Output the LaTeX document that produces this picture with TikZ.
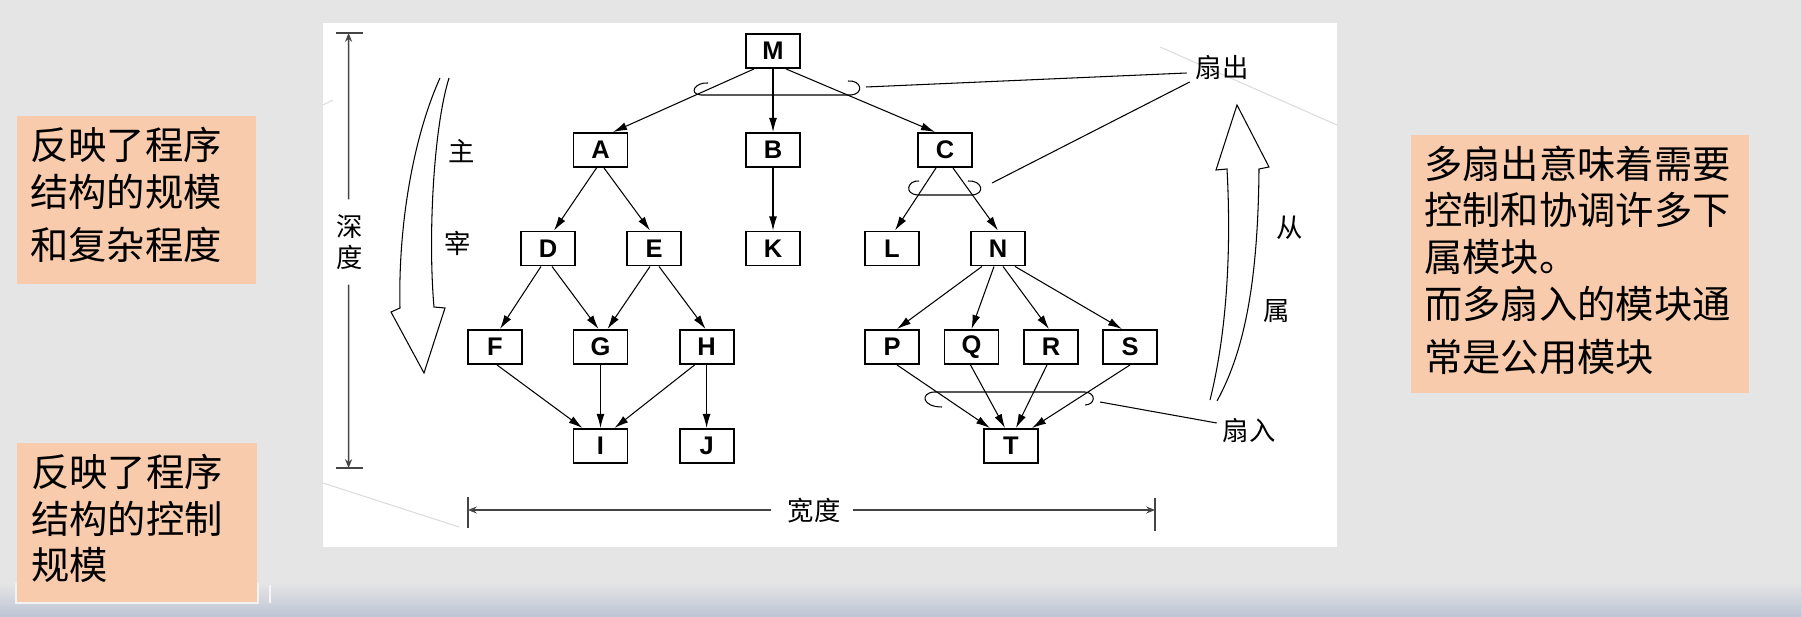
\documentclass[tikz,border=0pt]{standalone}
\usepackage{fontspec}
\setmainfont{Liberation Sans}
\newfontfamily\cjk{Noto Sans CJK SC}
\usetikzlibrary{arrows.meta,calc}
\definecolor{bg}{HTML}{E5E5E5}
\definecolor{peach}{HTML}{F8CBAD}
\definecolor{fade}{HTML}{BCC4D4}
\definecolor{faint}{HTML}{DCDCDC}
\definecolor{dim}{HTML}{444444}
\begin{document}
\begin{tikzpicture}[x=0.02cm,y=-0.02cm,
  mbox/.style={draw,line width=1.1pt,minimum width=1.08cm,minimum height=0.68cm,inner sep=0pt,
    font=\fontsize{14.5}{14.5}\selectfont\bfseries},
  edge/.style={-{Latex[length=8pt,width=4.5pt]},line width=0.6pt},
  dimline/.style={dim,line width=0.9pt},
  dimarrow/.style={dim,line width=0.9pt,-{Stealth[length=5pt,width=4pt]}},
  curl/.style={line width=0.6pt},
  hollow/.style={line width=0.6pt},
  cjklab/.style={font=\cjk\fontsize{15}{17.4}\selectfont,inner sep=0pt,align=center},
  note/.style={font=\cjk\fontsize{21.8}{21.8}\selectfont,anchor=base west,inner sep=0pt},
  notebox/.style={fill=peach}
]
\useasboundingbox (0,0) rectangle (1801,617);
% background
\fill[bg] (0,0) rectangle (1801,617);
\shade[top color=bg,bottom color=fade] (0,583) rectangle (1801,617);
\fill[white] (323,23) rectangle (1337,547);
\draw[faint,line width=0.6pt] (323,483) -- (459,527);
\draw[faint,line width=0.6pt] (1160,47) -- (1337,125);
\draw[faint,line width=0.6pt] (323,105) -- (333,100);
\draw[white!93!gray,line width=0.6pt] (270,585) -- (270,603);

% note boxes
\fill[notebox] (17,116) rectangle (256,284);
\node[note] (la1) at (30,160) {反映了程序};
\node[note] (la2) at (30,207) {结构的规模};
\node[note] (la3) at (30,260) {和复杂程度};

\draw[white!90!gray,line width=1.2pt] (16,583) -- (16,603) -- (258,603) -- (258,583);
\fill[notebox] (17,443) rectangle (257,602);
\node[note] (lb1) at (31,487) {反映了程序};
\node[note] (lb2) at (31,534) {结构的控制};
\node[note] (lb3) at (31,580) {规模};

\fill[notebox] (1411,135) rectangle (1749,393);
\node[note] (r1) at (1424,179) {多扇出意味着需要};
\node[note] (r2) at (1424,225) {控制和协调许多下};
\node[note] (r3) at (1424,272) {属模块。};
\node[note] (r4) at (1424,319) {而多扇入的模块通};
\node[note] (r5) at (1424,372) {常是公用模块};

% module boxes
\node[mbox] (M) at (773,51) {M};
\node[mbox] (A) at (600.5,150) {A};
\node[mbox] (B) at (773,150) {B};
\node[mbox] (C) at (945,150) {C};
\node[mbox] (D) at (548,248.5) {D};
\node[mbox] (E) at (654,248.5) {E};
\node[mbox] (K) at (773,248.5) {K};
\node[mbox] (L) at (892,248.5) {L};
\node[mbox] (N) at (998,248.5) {N};
\node[mbox] (F) at (495,347) {F};
\node[mbox] (G) at (600.5,347) {G};
\node[mbox] (H) at (706.6,347) {H};
\node[mbox] (P) at (892,347) {P};
\node[mbox] (Q) at (971.5,347) {Q};
\node[mbox] (R) at (1051,347) {R};
\node[mbox] (S) at (1130,347) {S};
\node[mbox] (I) at (600.5,446) {I};
\node[mbox] (J) at (706.6,446) {J};
\node[mbox] (T) at (1011,446) {T};

% edges
\draw[edge] ($(M.south)+(-19,0)$) -- ($(A.north)+(12.5,0)$);
\draw[edge] (M.south) -- (B.north);
\draw[edge] ($(M.south)+(13,0)$) -- ($(C.north)+(-10,0)$);
\draw[edge] ($(A.south)+(-4,0)$) -- ($(D.north)+(6,0)$);
\draw[edge] ($(A.south)+(3.5,0)$) -- ($(E.north)+(-4,0)$);
\draw[edge] (B.south) -- (K.north);
\draw[edge] ($(C.south)+(-9,0)$) -- ($(L.north)+(3,0)$);
\draw[edge] ($(C.south)+(8,0)$) -- (N.north);
\draw[edge] ($(D.south)+(-7,0)$) -- ($(F.north)+(5,0)$);
\draw[edge] ($(D.south)+(4,0)$) -- ($(G.north)+(-2,0)$);
\draw[edge] ($(E.south)+(-4,0)$) -- ($(G.north)+(7,0)$);
\draw[edge] ($(E.south)+(5,0)$) -- ($(H.north)+(-1,0)$);
\draw[edge] ($(F.south)+(2,0)$) -- ($(I.north)+(-18,0)$);
\draw[edge] (G.south) -- (I.north);
\draw[edge] ($(H.south)+(-12,0)$) -- ($(I.north)+(14,0)$);
\draw[edge] (H.south) -- (J.north);
\draw[edge] ($(N.south)+(-16,0)$) -- ($(P.north)+(5,0)$);
\draw[edge] ($(N.south)+(-4,0)$) -- (Q.north);
\draw[edge] ($(N.south)+(5,0)$) -- ($(R.north)+(-2,0)$);
\draw[edge] ($(N.south)+(17,0)$) -- ($(S.north)+(-8,0)$);
\draw[edge] ($(P.south)+(5,0)$) -- ($(T.north)+(-21,0)$);
\draw[edge] ($(Q.south)+(-1,0)$) -- ($(T.north)+(-6,0)$);
\draw[edge] ($(R.south)+(-4,0)$) -- ($(T.north)+(5,0)$);
\draw[edge] (S.south) -- ($(T.north)+(21,0)$);

% labels
\node[cjklab] (fanout) at (1222,67) {扇出};
\node[cjklab] (fanin) at (1249,430) {扇入};
\node[cjklab] (zhu) at (462,151) {主};
\node[cjklab] (zai) at (458,243) {宰};
\node[cjklab] (cong) at (1290,228) {从};
\node[cjklab] (shu) at (1277,311) {属};
\node[cjklab] (depth) at (349.5,242) {深\\度};
\node[cjklab] (width) at (814,511) {宽度};

% fan-out / fan-in marks
\draw[curl] (708,83) .. controls (695,82) and (688,94) .. (701,95) -- (851,95)
  .. controls (864,94) and (862,80) .. (848,81);
\coordinate (foM) at (866,87);
\draw[curl] (foM) -- ($(fanout.west)+(-8.6,6)$);
\draw[curl] (919,181) .. controls (908,180) and (903,194) .. (918,195) -- (972,195)
  .. controls (986,194) and (982,180) .. (968,181);
\coordinate (foC) at (992,183);
\draw[curl] (foC) -- ($(fanout.west)+(-5.6,15)$);
\draw[curl] (942,407) .. controls (922,407) and (920,393) .. (934,392) -- (1085,392)
  .. controls (1097,393) and (1095,405) .. (1085,405);
\coordinate (fiT) at (1100,402);
\draw[curl] (fiT) -- ($(fanin.west)+(-5.6,-7)$);

% big hollow arrows
\draw[hollow] (440,78) .. controls (412,140) and (398,230) .. (400,308) -- (391,312) -- (424,373)
  -- (445,308) -- (434,307) .. controls (428,240) and (433,130) .. (449,78);
\draw[hollow] (1210,400) .. controls (1225,340) and (1232,260) .. (1227,169) -- (1216,170)
  -- (1237,105) -- (1269,167) -- (1259,169) .. controls (1258,280) and (1245,350) .. (1217,401);

% depth dimension
\coordinate (dtop) at (348.6,33);
\coordinate (dbot) at (348.6,468);
\draw[dimline] ($(dtop)+(-12.6,0)$) -- ($(dtop)+(14.4,0)$);
\draw[dimline] ($(dbot)+(-12.6,0)$) -- ($(dbot)+(14.4,0)$);
\draw[dimarrow] ($(depth.north)+(-0.9,-15)$) -- (dtop);
\draw[dimarrow] ($(depth.south)+(-0.9,15)$) -- (dbot);

% width dimension
\coordinate (wl) at (468,510);
\coordinate (wr) at (1155,510);
\draw[dimline] (468,497) -- (468,528);
\draw[dimline] (1155,498) -- (1155,531);
\draw[dimarrow] ($(width.west)+(-16,-1)$) -- (wl);
\draw[dimarrow] ($(width.east)+(12,-1)$) -- (wr);
\end{tikzpicture}
\end{document}
